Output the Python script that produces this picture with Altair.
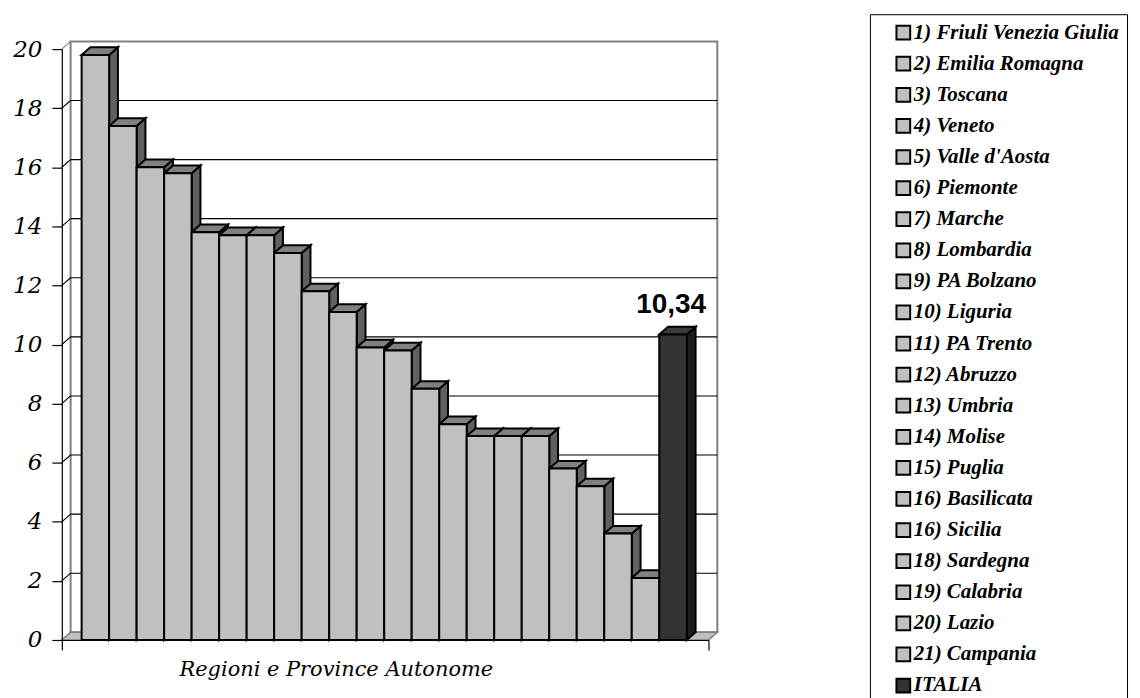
import altair as alt
import pandas as pd

# ---------------- data ----------------
regions = [
    "1) Friuli Venezia Giulia", "2) Emilia Romagna", "3) Toscana", "4) Veneto",
    "5) Valle d'Aosta", "6) Piemonte", "7) Marche", "8) Lombardia", "9) PA Bolzano",
    "10) Liguria", "11) PA Trento", "12) Abruzzo", "13) Umbria", "14) Molise",
    "15) Puglia", "16) Basilicata", "16) Sicilia", "18) Sardegna", "19) Calabria",
    "20) Lazio", "21) Campania", "ITALIA",
]
values = [19.8, 17.4, 16.0, 15.8, 13.8, 13.7, 13.7, 13.1, 11.8, 11.1, 9.9, 9.8,
          8.5, 7.3, 6.9, 6.9, 6.9, 5.8, 5.2, 3.6, 2.1, 10.34]
front_colors = ["#C0C0C0"] * 21 + ["#333333"]
side_colors = ["#606060"] * 21 + ["#1C1C1C"]
top_colors = ["#808080"] * 21 + ["#3A3A3A"]
y_ticks = [0, 2, 4, 6, 8, 10, 12, 14, 16, 18, 20]
labelled = ["ITALIA"]
x_title = "Regioni e Province Autonome"

SERIF = "Liberation Serif"
AXIS_SERIF = "DejaVu Serif"

# ---------------- geometry (styles) ----------------
X_MIN, X_MAX = -1.22, 22.29
Y_MAX = 20
DX, DY = 0.32, 0.26   # 3-D depth in data units

xs = alt.Scale(domain=[X_MIN, X_MAX], nice=False, zero=False)
ys = alt.Scale(domain=[0, Y_MAX], nice=False, zero=True)

X_AX = alt.Axis(
    values=[X_MIN, X_MAX], labels=False, tickSize=10, tickColor="black",
    domainColor="black", domainWidth=1.2, tickWidth=1.2, grid=False, zindex=1,
    title=x_title, titleFont=AXIS_SERIF, titleFontStyle="italic",
    titleFontWeight="normal", titleFontSize=21, titleColor="black",
    titleX=275, titleY=36, titleBaseline="alphabetic")
Y_AX = alt.Axis(
    values=y_ticks, tickSize=10, tickColor="black", domainColor="black",
    domainWidth=1.2, tickWidth=1.2, grid=False, zindex=1, title=None,
    labelFont=AXIS_SERIF, labelFontStyle="italic", labelFontSize=23,
    labelColor="black", labelPadding=10)

front = pd.DataFrame({
    "name": regions,
    "x0": [i - 0.5 for i in range(len(regions))],
    "x1": [i + 0.5 for i in range(len(regions))],
    "xc": list(range(len(regions))),
    "y0": 0.0,
    "v": values,
})

side_rows, top_rows = [], []
for i, (n, v) in enumerate(zip(regions, values)):
    side_rows.append({"name": n, "xs": i + 0.5, "lo": 0.0, "hi": v, "fill": side_colors[i]})
    side_rows.append({"name": n, "xs": i + 0.5 + DX, "lo": DY, "hi": v + DY, "fill": side_colors[i]})
    top_rows.append({"name": n, "yt": v, "xl": i - 0.5, "xr": i + 0.5, "fill": top_colors[i]})
    top_rows.append({"name": n, "yt": v + DY, "xl": i - 0.5 + DX, "xr": i + 0.5 + DX, "fill": top_colors[i]})
side = pd.DataFrame(side_rows)
top = pd.DataFrame(top_rows)

wall = pd.DataFrame([{"x": X_MIN + DX, "x2": X_MAX + DX, "y": DY, "y2": Y_MAX + DY}])
grid = pd.DataFrame([{"x": X_MIN + DX, "x2": X_MAX + DX, "y": k + DY} for k in y_ticks[1:-1]])
diag = pd.DataFrame([{"x": X_MIN, "x2": X_MIN + DX, "y": k, "y2": k + DY,
                      "c": "black" if 0 < k < Y_MAX else "#808080"} for k in y_ticks])
floor = pd.DataFrame([{"yf": 0.0, "xa": X_MIN, "xb": X_MAX},
                      {"yf": DY, "xa": X_MIN + DX, "xb": X_MAX + DX}])
lab = front[front["name"].isin(labelled)].copy()
lab["label"] = lab["v"].map(lambda t: f"{t:.2f}".replace(".", ","))

# ---------------- layers ----------------
wall_l = alt.Chart(wall).mark_rect(fill="white", stroke="#808080", strokeWidth=2).encode(
    x=alt.X("x:Q", scale=xs, axis=X_AX), x2="x2",
    y=alt.Y("y:Q", scale=ys, axis=Y_AX), y2="y2")

grid_l = alt.Chart(grid).mark_rule(color="black", strokeWidth=1.1).encode(
    x=alt.X("x:Q", scale=xs, axis=X_AX), x2="x2",
    y=alt.Y("y:Q", scale=ys, axis=Y_AX))

diag_l = alt.Chart(diag).mark_rule(strokeWidth=1.1).encode(
    x=alt.X("x:Q", scale=xs, axis=X_AX), x2="x2",
    y=alt.Y("y:Q", scale=ys, axis=Y_AX), y2="y2",
    color=alt.Color("c:N", scale=None))

floor_l = alt.Chart(floor).mark_area(orient="horizontal", fill="#C0C0C0",
                                     stroke="#808080", strokeWidth=1.5).encode(
    y=alt.Y("yf:Q", scale=ys, axis=Y_AX),
    x=alt.X("xa:Q", scale=xs, axis=X_AX), x2="xb")

side_l = alt.Chart(side).mark_area(orient="vertical", stroke="black", strokeWidth=2,
                                   strokeJoin="miter").encode(
    x=alt.X("xs:Q", scale=xs, axis=X_AX),
    y=alt.Y("lo:Q", scale=ys, axis=Y_AX), y2="hi",
    fill=alt.Fill("fill:N", scale=None),
    detail="name:N")

top_l = alt.Chart(top).mark_area(orient="horizontal", stroke="black", strokeWidth=2,
                                 strokeJoin="miter").encode(
    y=alt.Y("yt:Q", scale=ys, axis=Y_AX),
    x=alt.X("xl:Q", scale=xs, axis=X_AX), x2="xr",
    fill=alt.Fill("fill:N", scale=None),
    detail="name:N")

front_l = alt.Chart(front).mark_bar(stroke="black", strokeWidth=2, opacity=1,
                                    strokeJoin="miter").encode(
    x=alt.X("x0:Q", scale=xs, axis=X_AX),
    x2="x1",
    y=alt.Y("v:Q", scale=ys, axis=Y_AX),
    y2="y0",
    color=alt.Color("name:N", scale=alt.Scale(domain=regions, range=front_colors),
                    sort=regions,
                    legend=alt.Legend(
                        orient="none", legendX=811, legendY=-35, title=None,
                        symbolType="square", symbolSize=190, symbolStrokeColor="black",
                        symbolStrokeWidth=2, symbolOpacity=1, symbolOffset=15,
                        labelOffset=0, labelFont=SERIF,
                        labelFontSize=21, labelFontStyle="italic",
                        labelFontWeight="bold", labelColor="black", labelLimit=400,
                        rowPadding=8.2, padding=8, strokeColor="black",
                        fillColor="white", columns=1)),
)

text_l = alt.Chart(lab).mark_text(font="Liberation Sans", fontSize=28, fontWeight="bold",
                                  color="black", baseline="alphabetic", align="center",
                                  dy=-21.5, dx=-2).encode(
    x=alt.X("xc:Q", scale=xs, axis=X_AX),
    y=alt.Y("v:Q", scale=ys, axis=Y_AX),
    text="label:N")

chart = alt.layer(wall_l, diag_l, grid_l, floor_l, side_l, top_l, front_l, text_l).properties(
    width=649, height=593,
    autosize=alt.AutoSizeParams(type="none"),
    padding={"left": 54, "top": 40, "right": 425, "bottom": 57},
    background="white",
).configure_view(stroke=None)

chart.save("out.html", embed_options={"renderer": "svg", "actions": False})
